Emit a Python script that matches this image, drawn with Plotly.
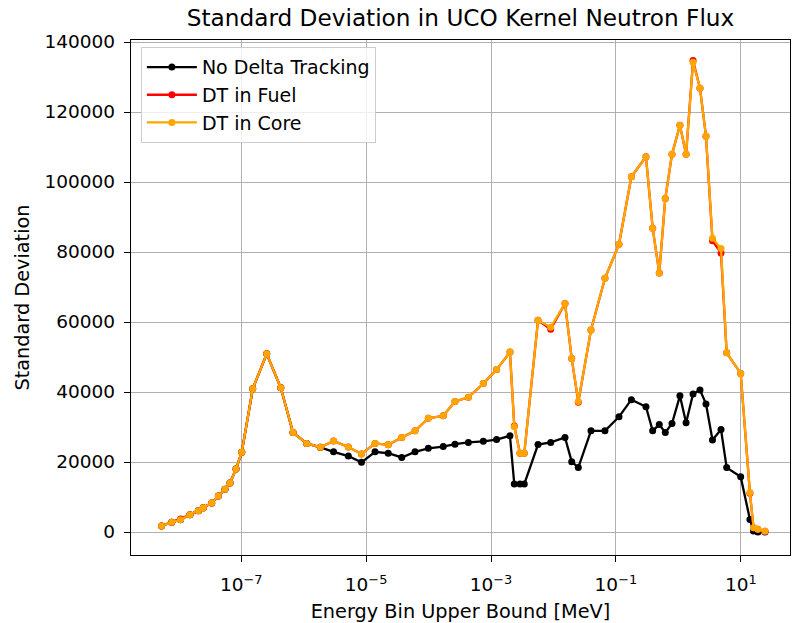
import plotly.graph_objects as go

# Energy bin upper bounds [MeV]
energy = [5.3e-9, 7.7e-9, 1.07e-8, 1.51e-8, 2.06e-8, 2.47e-8, 3.37e-8, 4.30e-8, 5.50e-8, 6.62e-8,
          8.26e-8, 1.02e-7, 1.53e-7, 2.56e-7, 4.30e-7, 6.75e-7, 1.12e-6, 1.85e-6, 3.01e-6, 5.19e-6,
          8.43e-6, 1.39e-5, 2.26e-5, 3.72e-5, 6.07e-5, 9.91e-5, 1.72e-4, 2.65e-4, 4.34e-4, 7.53e-4,
          1.23e-3, 2.01e-3, 2.36e-3, 2.91e-3, 3.41e-3, 5.66e-3, 9.04e-3, 1.53e-2, 1.96e-2, 2.50e-2,
          3.99e-2, 6.68e-2, 0.112, 0.177, 0.303, 0.388, 0.495, 0.618, 0.791, 1.06,
          1.33, 1.72, 2.22, 2.77, 3.52, 4.82, 5.94, 9.96, 14.0, 16.0,
          18.8, 24.4]

no_dt = [1700, 2800, 3500, 4900, 6100, 6900, 8300, 10300, 12200, 14000,
         18000, 22800, 40900, 50900, 41200, 28400, 25300, 24200, 22900, 21700,
         19900, 22900, 22500, 21300, 22900, 23900, 24400, 25100, 25600, 25900,
         26400, 27500, 13700, 13700, 13700, 25000, 25600, 27000, 20100, 18400,
         28900, 28900, 32900, 37800, 35800, 28900, 30700, 28400, 31000, 38900,
         31200, 39400, 40600, 36600, 26300, 29300, 18400, 15800, 3600, 300,
         0, 0]

dt_fuel = [1700, 2800, 3700, 4900, 6100, 6900, 8300, 10300, 12200, 14000,
           18000, 22800, 40900, 50900, 41200, 28400, 25300, 24200, 26000, 24300,
           22300, 25300, 24900, 27000, 28900, 32500, 33200, 37300, 38500, 42400,
           46400, 51400, 30300, 22500, 22500, 60500, 57900, 65300, 49600, 37100,
           57700, 72500, 82200, 101500, 107200, 86800, 74000, 95300, 107900, 116200,
           107900, 134700, 126800, 113100, 83200, 79700, 51200, 45300, 11100, 1200,
           800, 200]

dt_core = [1700, 2800, 3500, 4900, 6100, 6900, 8300, 10300, 12200, 14000,
           18000, 22800, 40900, 50900, 41200, 28400, 25300, 24200, 26000, 24300,
           22300, 25300, 24900, 27000, 28900, 32500, 33200, 37300, 38500, 42400,
           46400, 51400, 30100, 22500, 22500, 60500, 58500, 65300, 49600, 37300,
           57700, 72500, 82200, 101500, 107200, 86800, 74000, 95300, 107900, 116200,
           107900, 134200, 126800, 113100, 83900, 81000, 51200, 45300, 11300, 1200,
           800, 200]

x_tickvals = [1e-7, 1e-5, 1e-3, 1e-1, 1e1]
x_ticktext = ["10<sup>\u22127</sup>", "10<sup>\u22125</sup>", "10<sup>\u22123</sup>",
              "10<sup>\u22121</sup>", "10<sup>1</sup>"]
y_tickvals = [0, 20000, 40000, 60000, 80000, 100000, 120000, 140000]

series = [("No Delta Tracking", no_dt, "black"),
          ("DT in Fuel", dt_fuel, "red"),
          ("DT in Core", dt_core, "#FFA500")]

FONT = "DejaVu Sans"
fig = go.Figure()
for i, (name, vals, col) in enumerate(series):
    fig.add_trace(go.Scatter(
        x=energy, y=vals, name=name, mode="lines+markers",
        line=dict(color=col, width=2.3),
        marker=dict(color=col, size=7),
        legendgroup=f"g{i}",
    ))

fig.update_layout(
    width=794, height=623,
    margin=dict(l=131, r=4, t=40, b=68, autoexpand=False),
    paper_bgcolor="white", plot_bgcolor="white",
    font=dict(family=FONT, size=19, color="#262626"),
    title=dict(text="Standard Deviation in UCO Kernel Neutron Flux",
               x=0.5, xref="paper", xanchor="center",
               y=1 - 18 / 623, yref="container", yanchor="middle",
               font=dict(size=23.2, color="black", family=FONT)),
    showlegend=True,
    legend=dict(x=0.015, y=0.986, xanchor="left", yanchor="top",
                bgcolor="rgba(255,255,255,0.8)", bordercolor="#cccccc", borderwidth=1,
                font=dict(size=19, color="black", family=FONT),
                tracegroupgap=0, itemwidth=50),
)

fig.update_xaxes(
    type="log", range=[-8.765, 1.788], automargin=False,
    tickvals=x_tickvals, ticktext=x_ticktext,
    showgrid=True, gridcolor="#b0b0b0", gridwidth=1,
    showline=True, linecolor="black", linewidth=1.3, mirror=True,
    ticks="outside", ticklen=6, tickcolor="black", tickwidth=1.2,
    tickfont=dict(size=18.5, color="black"), ticklabelstandoff=7,
    title=dict(text="Energy Bin Upper Bound [MeV]", font=dict(size=19.3, color="black"), standoff=14),
    zeroline=False,
)
fig.update_yaxes(
    range=[-6570, 140570], automargin=False,
    tickvals=y_tickvals, tickformat="d",
    showgrid=True, gridcolor="#b0b0b0", gridwidth=1,
    showline=True, linecolor="black", linewidth=1.3, mirror=True,
    ticks="outside", ticklen=6, tickcolor="black", tickwidth=1.2,
    tickfont=dict(size=18.5, color="black"), ticklabelstandoff=5,
    title=dict(text="Standard Deviation", font=dict(size=19.3, color="black"), standoff=9),
    zeroline=False,
)

fig.write_html("out.html", config={"displayModeBar": False},
               post_script="document.body.style.margin='0';document.body.style.overflow='hidden';")
